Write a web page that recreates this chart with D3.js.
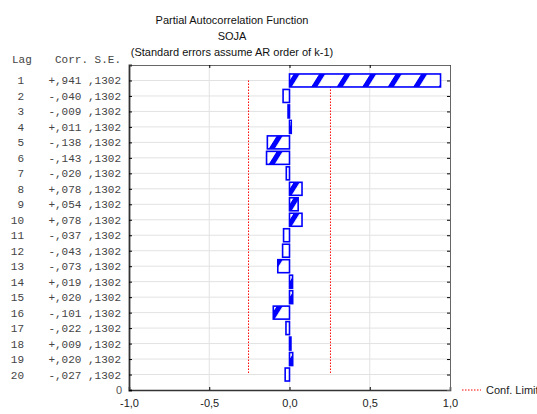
<!DOCTYPE html>
<html>
<head>
<meta charset="utf-8">
<script src="https://cdn.jsdelivr.net/npm/d3@7"></script>
<style>
  body { margin: 0; background: #fff; }
  svg text { font-family: "Liberation Sans", Arial, sans-serif; }
  .tbl { font-family: "Liberation Mono", "Courier New", monospace !important; font-size: 11px; fill: #444; }
</style>
</head>
<body>
<div id="chart"></div>
<script>
// data
var lags = [1, 2, 3, 4, 5, 6, 7, 8, 9, 10, 11, 12, 13, 14, 15, 16, 17, 18, 19, 20];
var corr = [0.941, -0.040, -0.009, 0.011, -0.138, -0.143, -0.020, 0.078, 0.054, 0.078,
            -0.037, -0.043, -0.073, 0.019, 0.020, -0.101, -0.022, 0.009, 0.020, -0.027];
var stdErr = [0.1302, 0.1302, 0.1302, 0.1302, 0.1302, 0.1302, 0.1302, 0.1302, 0.1302, 0.1302,
              0.1302, 0.1302, 0.1302, 0.1302, 0.1302, 0.1302, 0.1302, 0.1302, 0.1302, 0.1302];
var xTicks = [-1, -0.5, 0, 0.5, 1];
var titleLines = ["Partial Autocorrelation Function", "SOJA", "(Standard errors assume AR order of k-1)"];

var svgWidth = 537;
var svgHeight = 414;
var margin = { top: 65, right: 87, bottom: 24, left: 129 };
var width = svgWidth - margin.left - margin.right;
var height = svgHeight - margin.top - margin.bottom;

var svg = d3.select("#chart")
  .append("svg")
  .attr("width", svgWidth)
  .attr("height", svgHeight);

var chartGroup = svg.append("g")
  .attr("transform", `translate(${margin.left}, ${margin.top})`);

var xScale = d3.scaleLinear().domain([-1, 1]).range([0, width]);
// lag k sits at 21-k so lag 1 is on top
var yScale = d3.scaleLinear().domain([0, 21]).range([height, 0]);
var yLag = k => yScale(21 - k);

var fmt = v => d3.format(".1f")(v).replace("−", "-").replace(".", ",");
var fmtCorr = v => (v >= 0 ? "+" : "-") + d3.format(".3f")(Math.abs(v)).replace(/^0\./, ",");
var fmtSE = v => d3.format(".4f")(v).replace(/^0\./, ",");

// gridlines
chartGroup.selectAll(".hgrid")
  .data(lags)
  .enter()
  .append("line")
  .attr("x1", 0).attr("x2", width)
  .attr("y1", d => yLag(d)).attr("y2", d => yLag(d))
  .attr("stroke", "#e2e2e2");

chartGroup.selectAll(".vgrid")
  .data([-0.5, 0, 0.5])
  .enter()
  .append("line")
  .attr("x1", d => xScale(d)).attr("x2", d => xScale(d))
  .attr("y1", 0).attr("y2", height)
  .attr("stroke", "#e2e2e2");

// hatch patterns, one per bar so the stripes start at the zero line
var barH = 13;
var defs = svg.append("defs");
lags.forEach(function(k, i) {
  var v = corr[i];
  var off = v >= 0 ? 5 : -12;
  var p = defs.append("pattern")
    .attr("id", "hatch" + k)
    .attr("patternUnits", "userSpaceOnUse")
    .attr("width", 25.5)
    .attr("height", barH)
    .attr("patternTransform",
      `translate(${margin.left + xScale(0) + off}, ${margin.top + yLag(k) + barH / 2}) skewX(-32)`);
  p.append("rect").attr("width", 25.5).attr("height", barH).attr("fill", "#fff");
  p.append("rect").attr("width", 6).attr("height", barH).attr("fill", "#0000ff");
});

// confidence limits
chartGroup.selectAll(".conf")
  .data([-1.96 * stdErr[0], 1.96 * stdErr[0]])
  .enter()
  .append("line")
  .attr("x1", d => xScale(d)).attr("x2", d => xScale(d))
  .attr("y1", yLag(1)).attr("y2", yLag(20))
  .attr("stroke", "#ff0000")
  .attr("stroke-width", 1)
  .attr("stroke-dasharray", "1.5,1.5");

// bars
chartGroup.selectAll(".bar")
  .data(lags)
  .enter()
  .append("rect")
  .attr("x", (d, i) => xScale(Math.min(0, corr[i])))
  .attr("y", d => yLag(d) - barH / 2)
  .attr("width", (d, i) => Math.abs(xScale(corr[i]) - xScale(0)))
  .attr("height", barH)
  .attr("fill", d => `url(#hatch${d})`)
  .attr("stroke", "#0000ff")
  .attr("stroke-width", 1.6);

// axes
chartGroup.append("g")
  .attr("transform", `translate(0,${height})`)
  .call(d3.axisBottom(xScale).tickValues(xTicks).tickFormat(fmt).tickSize(-3).tickPadding(9))
  .call(g => g.select(".domain").attr("stroke", "#333").attr("stroke-width", 1.6))
  .call(g => g.selectAll("text").attr("font-size", 11).attr("fill", "#222").attr("font-family", "Liberation Sans, Arial, sans-serif"));

chartGroup.append("g")
  .call(d3.axisTop(xScale).tickValues(xTicks).tickFormat("").tickSize(-3))
  .call(g => g.select(".domain").attr("stroke", "#666"));

chartGroup.append("g")
  .attr("transform", `translate(${width},0)`)
  .call(d3.axisRight(yScale).tickValues(d3.range(1, 21)).tickFormat("").tickSize(-3))
  .call(g => g.select(".domain").attr("stroke", "#666"));

chartGroup.append("g")
  .call(d3.axisLeft(yScale).tickValues(d3.range(0, 21)).tickFormat(d => d === 0 ? "0" : "").tickSize(-3).tickPadding(7))
  .call(g => g.select(".domain").attr("stroke", "#333").attr("stroke-width", 1.8))
  .call(g => g.selectAll("text").attr("font-size", 11).attr("fill", "#555").attr("font-family", "Liberation Sans, Arial, sans-serif"));

// lag / corr / s.e. table on the left
svg.append("text").attr("class", "tbl").attr("x", 12).attr("y", 63).text("Lag");
svg.append("text").attr("class", "tbl").attr("x", 121).attr("y", 63).attr("text-anchor", "end").text("Corr. S.E.");

svg.selectAll(".lagText")
  .data(lags)
  .enter()
  .append("text")
  .attr("class", "tbl")
  .attr("x", 24)
  .attr("y", d => margin.top + yLag(d) + 4)
  .attr("text-anchor", "end")
  .text(d => d);

svg.selectAll(".valText")
  .data(lags)
  .enter()
  .append("text")
  .attr("class", "tbl")
  .attr("x", 121)
  .attr("y", d => margin.top + yLag(d) + 4)
  .attr("text-anchor", "end")
  .style("white-space", "pre")
  .text((d, i) => fmtCorr(corr[i]) + " " + fmtSE(stdErr[i]));

// title
svg.selectAll(".title")
  .data(titleLines)
  .enter()
  .append("text")
  .attr("x", 232)
  .attr("y", (d, i) => 24 + i * 16)
  .attr("text-anchor", "middle")
  .attr("font-size", 11)
  .attr("fill", "#111")
  .text(d => d);

// legend (cut at the window edge, as in the reference)
svg.append("line")
  .attr("x1", 462).attr("x2", 481)
  .attr("y1", 390).attr("y2", 390)
  .attr("stroke", "#ff0000")
  .attr("stroke-dasharray", "1.5,1.5");

svg.append("text")
  .attr("x", 486).attr("y", 394)
  .attr("font-size", 11)
  .attr("fill", "#222")
  .text("Conf. Limit");
</script>
</body>
</html>
